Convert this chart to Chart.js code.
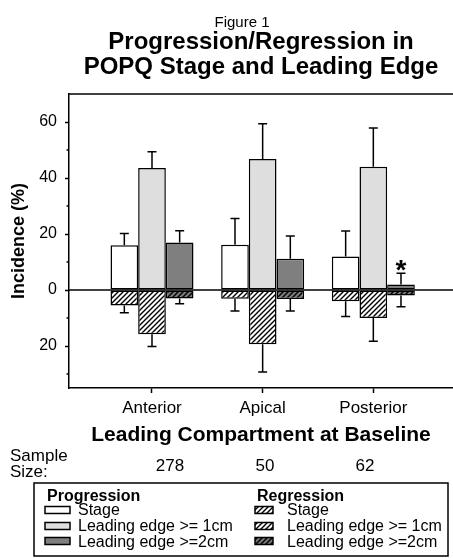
<!DOCTYPE html>
<html><head><meta charset="utf-8">
<script src="https://cdn.jsdelivr.net/npm/chart.js@4"></script>
<style>html,body{margin:0;padding:0;background:#fff;overflow:hidden;}</style>
</head><body>
<canvas id="c" width="453" height="558"></canvas>
<script>
// ---- data ----
const categories = ['Anterior', 'Apical', 'Posterior'];
const sampleSizes = ['278', '50', '62'];
const progStage    = [16.0, 16.2, 12.0];
const progStageErr = [4.2, 9.3, 9.1];
const progLE1      = [43.6, 46.8, 44.0];
const progLE1Err   = [5.8, 12.6, 13.9];
const progLE2      = [17.0, 11.2, 2.0];
const progLE2Err   = [4.2, 8.1, 4.0];
const regStage     = [-5.5, -3.1, -4.0];
const regStageErr  = [2.6, 4.4, 5.5];
const regLE1       = [-15.8, -19.4, -10.0];
const regLE1Err    = [4.4, 9.9, 8.3];
const regLE2       = [-3.0, -3.2, -2.0];
const regLE2Err    = [1.9, 4.3, 4.0];
const yMajorTicks  = [-20, 0, 20, 40, 60];
const yMinorTicks  = [-30, -10, 10, 30, 50];
const significantMark = { dataset: 2, index: 2, text: '*' };

const FONT = "'Liberation Sans', Arial, Helvetica, sans-serif";
const canvas = document.getElementById('c');
const mainCtx = canvas.getContext('2d');

function hatch(bg) {
  const t = document.createElement('canvas');
  t.width = 5; t.height = 5;
  const g = t.getContext('2d');
  g.fillStyle = bg; g.fillRect(0, 0, 5, 5);
  g.strokeStyle = '#000'; g.lineWidth = 1.4;
  g.beginPath();
  g.moveTo(0, 5); g.lineTo(5, 0);
  g.moveTo(-1, 1); g.lineTo(1, -1);
  g.moveTo(4, 6); g.lineTo(6, 4);
  g.stroke();
  return mainCtx.createPattern(t, 'repeat');
}

const toXY = arr => arr.map((v, i) => ({ x: i, y: v }));
const common = { borderColor: '#000', borderWidth: 1.5, borderSkipped: false, barPercentage: 1.0, categoryPercentage: 0.75 };

const datasets = [
  { label: 'Stage', group: 'Progression', data: toXY(progStage), err: progStageErr, stack: 'stage', backgroundColor: '#ffffff', ...common },
  { label: 'Leading edge >= 1cm', group: 'Progression', data: toXY(progLE1), err: progLE1Err, stack: 'le1', backgroundColor: '#dedede', ...common },
  { label: 'Leading edge >=2cm', group: 'Progression', data: toXY(progLE2), err: progLE2Err, stack: 'le2', backgroundColor: '#7f7f7f', ...common },
  { label: 'Stage', group: 'Regression', data: toXY(regStage), err: regStageErr, stack: 'stage', backgroundColor: hatch('#ffffff'), ...common },
  { label: 'Leading edge >= 1cm', group: 'Regression', data: toXY(regLE1), err: regLE1Err, stack: 'le1', backgroundColor: hatch('#ffffff'), ...common },
  { label: 'Leading edge >=2cm', group: 'Regression', data: toXY(regLE2), err: regLE2Err, stack: 'le2', backgroundColor: hatch('#7a7a7a'), ...common }
];

const overlay = {
  id: 'overlay',
  afterDatasetsDraw(chart) {
    const { ctx, chartArea: a, scales: { y } } = chart;
    ctx.save();
    ctx.strokeStyle = '#000';
    ctx.lineWidth = 1.5;
    // error bars
    chart.data.datasets.forEach((ds, d) => {
      const meta = chart.getDatasetMeta(d);
      meta.data.forEach((el, i) => {
        const v = ds.data[i].y;
        const end = y.getPixelForValue(v + Math.sign(v) * ds.err[i]);
        ctx.beginPath();
        ctx.moveTo(el.x, el.y); ctx.lineTo(el.x, end);
        ctx.moveTo(el.x - 4.5, end); ctx.lineTo(el.x + 4.5, end);
        ctx.stroke();
      });
    });
    // zero line
    const y0 = y.getPixelForValue(0);
    ctx.beginPath(); ctx.moveTo(a.left, y0); ctx.lineTo(a.right, y0); ctx.stroke();
    // top frame
    ctx.beginPath(); ctx.moveTo(a.left, a.top); ctx.lineTo(a.right, a.top); ctx.stroke();
    // minor ticks
    yMinorTicks.forEach(v => {
      const p = y.getPixelForValue(v);
      ctx.beginPath(); ctx.moveTo(a.left - 2.5, p); ctx.lineTo(a.left, p); ctx.stroke();
    });
    // significance mark
    const sd = chart.data.datasets[significantMark.dataset];
    const sel = chart.getDatasetMeta(significantMark.dataset).data[significantMark.index];
    const sv = sd.data[significantMark.index].y;
    const top = y.getPixelForValue(sv + sd.err[significantMark.index]);
    ctx.fillStyle = '#000';
    ctx.font = 'bold 28px ' + FONT;
    ctx.textAlign = 'center'; ctx.textBaseline = 'alphabetic';
    ctx.fillText(significantMark.text, sel.x, top + 6);
    ctx.restore();
  },
  afterDraw(chart) {
    const { ctx } = chart;
    ctx.save();
    ctx.fillStyle = '#000';
    ctx.textBaseline = 'alphabetic';
    // Figure 1
    ctx.font = '15px ' + FONT;
    ctx.textAlign = 'center';
    ctx.fillText('Figure 1', 242, 27);
    // sample size
    ctx.font = '17px ' + FONT;
    ctx.textAlign = 'left';
    ctx.fillText('Sample', 10, 461);
    ctx.fillText('Size:', 10, 477);
    ctx.font = '17px ' + FONT;
    ctx.textAlign = 'center';
    const sx = [170, 265, 365];
    sampleSizes.forEach((s, i) => ctx.fillText(s, sx[i], 471));
    // legend box
    ctx.strokeStyle = '#000';
    ctx.lineWidth = 1.5;
    ctx.strokeRect(34, 483, 414, 73);
    ctx.textAlign = 'left';
    ctx.font = 'bold 16px ' + FONT;
    ctx.fillText('Progression', 47, 501);
    ctx.fillText('Regression', 257, 501);
    const rowBase = [515, 531, 547];
    const rowMid = [510, 526, 541];
    ctx.font = '16px ' + FONT;
    chart.data.datasets.forEach((ds, d) => {
      const col = d < 3 ? 0 : 1;
      const r = d % 3;
      const sxp = col === 0 ? 45 : 255;
      const sw = col === 0 ? 25 : 18;
      const tx = col === 0 ? 78 : 287;
      ctx.fillStyle = ds.backgroundColor;
      ctx.fillRect(sxp, rowMid[r] - 3.5, sw, 7);
      ctx.strokeRect(sxp, rowMid[r] - 3.5, sw, 7);
      ctx.fillStyle = '#000';
      ctx.fillText(ds.label, tx, rowBase[r]);
    });
    ctx.restore();
  }
};

new Chart(canvas, {
  type: 'bar',
  data: { datasets },
  plugins: [overlay],
  options: {
    responsive: false,
    animation: false,
    devicePixelRatio: 1,
    events: [],
    layout: { padding: { top: 22, left: 0, right: 0, bottom: 109 } },
    plugins: {
      legend: { display: false },
      tooltip: { enabled: false },
      title: {
        display: true,
        text: ['Progression/Regression in', 'POPQ Stage and Leading Edge'],
        fullSize: false,
        color: '#000',
        font: { family: FONT, size: 24, weight: 'bold', lineHeight: 1.05 },
        padding: { top: 7.5, bottom: 14.1 }
      }
    },
    scales: {
      x: {
        type: 'linear',
        min: -0.75,
        max: 2.72,
        offset: false,
        afterBuildTicks: s => { s.ticks = categories.map((_, i) => ({ value: i })); },
        afterFit: s => { s.height = 61; },
        grid: { display: true, drawOnChartArea: false, drawTicks: true, tickLength: 5, tickWidth: 1.5, tickColor: '#000', offset: false },
        border: { display: true, color: '#000', width: 1.5 },
        ticks: {
          autoSkip: false, maxRotation: 0, padding: 5, color: '#000',
          font: { family: FONT, size: 17 },
          callback: v => categories[v] ?? ''
        },
        title: {
          display: true, text: 'Leading Compartment at Baseline', color: '#000',
          font: { family: FONT, size: 21, weight: 'bold' },
          padding: { top: 0, bottom: 1 }
        }
      },
      y: {
        stacked: true,
        min: -35,
        max: 70,
        afterBuildTicks: s => { s.ticks = [...yMinorTicks, ...yMajorTicks].sort((a, b) => a - b).map(v => ({ value: v })); },
        afterFit: s => { s.width = 69; },
        grid: {
          display: true, drawOnChartArea: false, drawTicks: true, tickLength: 4, tickWidth: 1.5,
          tickColor: c => (c.tick && yMajorTicks.includes(c.tick.value)) ? '#000' : 'rgba(0,0,0,0)'
        },
        border: { display: true, color: '#000', width: 1.5 },
        ticks: {
          autoSkip: false, padding: 8, color: '#000',
          font: { family: FONT, size: 16 },
          callback: v => yMajorTicks.includes(v) ? String(Math.abs(v)) : ''
        },
        title: {
          display: true, text: 'Incidence (%)', color: '#000',
          font: { family: FONT, size: 18, weight: 'bold' },
          padding: { top: 8, bottom: 0 }
        }
      }
    }
  }
});
</script>
</body></html>
